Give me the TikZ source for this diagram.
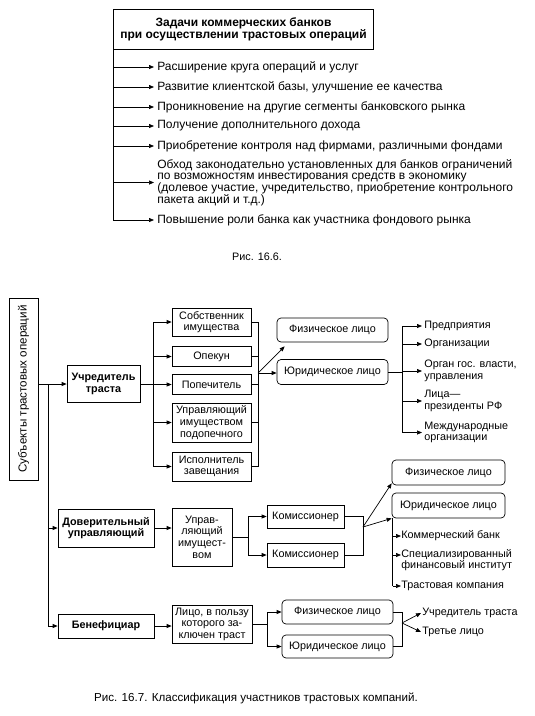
\documentclass[tikz,border=0pt]{standalone}
\usepackage{fontspec}
\setmainfont{Liberation Sans}
\usetikzlibrary{arrows.meta,calc}
\newcommand\fTop{\fontsize{12}{11.8}\selectfont}
\newcommand\fBot{\fontsize{10.8}{11.6}\selectfont}
\newcommand\fCap{\fontsize{11.6}{13}\selectfont}
\begin{document}
\begin{tikzpicture}[x=1pt,y=-1pt,
  line width=0.7pt,
  box/.style={draw, align=center, inner sep=1pt, font=\fBot},
  rbox/.style={box, rounded corners=4pt},
  arr/.style={-{Triangle[length=5pt,width=4pt]}},
  lbl/.style={anchor=west, align=left, inner sep=0pt, font=\fBot},
  tlbl/.style={anchor=west, align=left, inner sep=0pt, font=\fTop}]
\useasboundingbox (0,0) rectangle (535,716);

% ---------- Fig 16.6 ----------
\node[box, font=\fTop\bfseries, minimum width=260pt, minimum height=40pt] (tb) at (243.5,29)
  {Задачи коммерческих банков\\при осуществлении трастовых операций};
\node[tlbl] (a1) at (157,67) {Расширение круга операций и услуг};
\node[tlbl] (a2) at (157,87) {Развитие клиентской базы, улучшение ее качества};
\node[tlbl] (a3) at (157,107) {Проникновение на другие сегменты банковского рынка};
\node[tlbl] (a4) at (157,126) {Получение дополнительного дохода};
\node[tlbl] (a5) at (157,146) {Приобретение контроля над фирмами, различными фондами};
\node[tlbl] (a6) at (157,182.5) {Обход законодательно установленных для банков ограничений\\по возможностям инвестирования средств в экономику\\(долевое участие, учредительство, приобретение контрольного\\пакета акций и т.д.)};
\node[tlbl] (a7) at (157,220) {Повышение роли банка как участника фондового рынка};
\coordinate (tbot) at (tb.west |- a7.west);
\draw (tb.south west) -- (tbot);
\foreach \n in {a1,a2,a3,a4,a5,a6,a7}
  \draw[arr] (tb.west |- \n.west) -- ([xshift=-3pt]\n.west);
\node[font=\fBot] (c1) at (257,257) {Рис. 16.6.};

% ---------- Fig 16.7 ----------
\node[box, rotate=90, font=\fCap, minimum width=182pt, minimum height=29pt] (subj) at (23.5,389)
  {Субъекты трастовых операций};
\node[box, font=\fBot\bfseries, minimum width=73pt, minimum height=37pt] (uch) at (103.5,384) {Учредитель\\траста};
\node[box, font=\fBot\bfseries, minimum width=96pt, minimum height=38pt] (dov) at (106,528) {Доверительный\\управляющий};
\node[box, font=\fBot\bfseries, minimum width=96pt, minimum height=24pt] (ben) at (106,626) {Бенефициар};

\coordinate (tr0) at (48,384);
\coordinate (tr1) at (48,626);
\draw[arr] (subj.south |- uch.west) -- (uch.west);
\draw (tr0) -- (tr1);
\draw[arr] (tr0 |- dov.west) -- (dov.west);
\draw[arr] (tr1) -- (ben.west);

% founder branch
\node[box, minimum width=79pt, minimum height=28pt] (sob) at (211.5,322) {Собственник\\имущества};
\node[box, minimum width=79pt, minimum height=20pt] (opk) at (211.5,356.5) {Опекун};
\node[box, minimum width=79pt, minimum height=20pt] (pop) at (211.5,384.5) {Попечитель};
\node[box, minimum width=79pt, minimum height=39pt] (upr) at (211.5,422.5) {Управляющий\\имуществом\\подопечного};
\node[box, minimum width=79pt, minimum height=29pt] (isp) at (211.5,466.5) {Исполнитель\\завещания};

\coordinate (lb) at (153,384);
\draw (uch.east |- lb) -- (lb);
\draw (lb |- sob.west) -- (lb |- isp.west);
\foreach \n in {sob,opk,pop,upr,isp}
  \draw[arr] (lb |- \n.west) -- (\n.west);
\coordinate (rb) at (258,373);
\draw (rb |- sob.east) -- (rb |- isp.east);
\foreach \n in {sob,opk,pop,upr,isp}
  \draw (\n.east) -- (rb |- \n.east);

\node[rbox, minimum width=111pt, minimum height=24pt] (fiz1) at (332.5,330) {Физическое лицо};
\node[rbox, minimum width=111pt, minimum height=25pt] (yur1) at (332.5,372) {Юридическое лицо};
\draw[arr] (rb) -- (rb -| yur1.west);
\draw[arr] (rb) -- ($(fiz1.south west)+(8,4)$);

\node[lbl] (p1) at (424,326) {Предприятия};
\node[lbl] (p2) at (424,344) {Организации};
\node[lbl] (p3) at (424,371) {Орган гос. власти,\\управления};
\node[lbl] (p4) at (424,401) {Лица—\\президенты РФ};
\node[lbl] (p5) at (424,432.5) {Международные\\организации};
\coordinate (b2) at (402,372);
\draw (yur1.east) -- (b2);
\draw (b2 |- p1.west) -- (b2 |- p5.west);
\foreach \n in {p1,p2,p3,p4,p5}
  \draw[arr] (b2 |- \n.west) -- ([xshift=-2pt]\n.west);

% trustee branch
\node[box, minimum width=60pt, minimum height=58pt] (upr2) at (202,537) {Управ-\\ляющий\\имущест-\\вом};
\draw[arr] (dov.east) -- (upr2.west |- dov.east);
\node[box, minimum width=77pt, minimum height=23pt] (kom1) at (305.5,516.5) {Комиссионер};
\node[box, minimum width=77pt, minimum height=24pt] (kom2) at (305.5,555) {Комиссионер};
\coordinate (b3) at (248,537);
\draw (upr2.east) -- (b3);
\draw (b3 |- kom1.west) -- (b3 |- kom2.west);
\draw[arr] (b3 |- kom1.west) -- (kom1.west);
\draw[arr] (b3 |- kom2.west) -- (kom2.west);
\coordinate (j2) at (363,527);
\draw (kom1.east) -- (j2 |- kom1.east) -- (j2 |- kom2.east) -- (kom2.east);

\node[rbox, minimum width=113pt, minimum height=25pt] (fiz2) at (448.5,472.5) {Физическое лицо};
\node[rbox, minimum width=113pt, minimum height=25pt] (yur2) at (448.5,505.5) {Юридическое лицо};
\draw[arr] (j2) -- ($(fiz2.south west)+(0,-2)$);
\draw[arr] (j2) -- (yur2.south west);

\node[lbl] (q1) at (401,536) {Коммерческий банк};
\node[lbl] (q2) at (401,560) {Специализированный\\финансовый институт};
\node[lbl] (q3) at (401,586) {Трастовая компания};
\draw (yur2.south west) ++(1,0) coordinate (b4) -- (b4 |- q3.west);
\draw[arr] (b4 |- q1.west) -- (q1.west);
\draw[arr] (b4 |- 0,555) -- (q2.west |- 0,555);
\draw[arr] (b4 |- q3.west) -- (q3.west);

% beneficiary branch
\node[box, minimum width=80pt, minimum height=38pt] (lico) at (212,624) {Лицо, в пользу\\которого за-\\ключен траст};
\draw[arr] (ben.east) -- (lico.west |- ben.east);
\node[rbox, minimum width=111pt, minimum height=24pt] (fiz3) at (337.5,612) {Физическое лицо};
\node[rbox, minimum width=111pt, minimum height=23pt] (yur3) at (337.5,646.5) {Юридическое лицо};
\coordinate (b5) at (267,624);
\draw (lico.east) -- (b5);
\draw (b5 |- fiz3.west) -- (b5 |- yur3.west);
\draw[arr] (b5 |- fiz3.west) -- (fiz3.west);
\draw[arr] (b5 |- yur3.west) -- (yur3.west);
\coordinate (j3) at (402,623);
\draw (fiz3.east) -- (j3 |- fiz3.east) -- (j3 |- yur3.east) -- (yur3.east);
\node[lbl] (r1) at (422,613) {Учредитель траста};
\node[lbl] (r2) at (422,632) {Третье лицо};
\draw[arr] (j3) -- ([xshift=-1pt]r1.west);
\draw[arr] (j3) -- ([xshift=-1pt]r2.west);

\node[font=\fCap] (c2) at (256,698) {Рис. 16.7. Классификация участников трастовых компаний.};
\end{tikzpicture}
\end{document}
